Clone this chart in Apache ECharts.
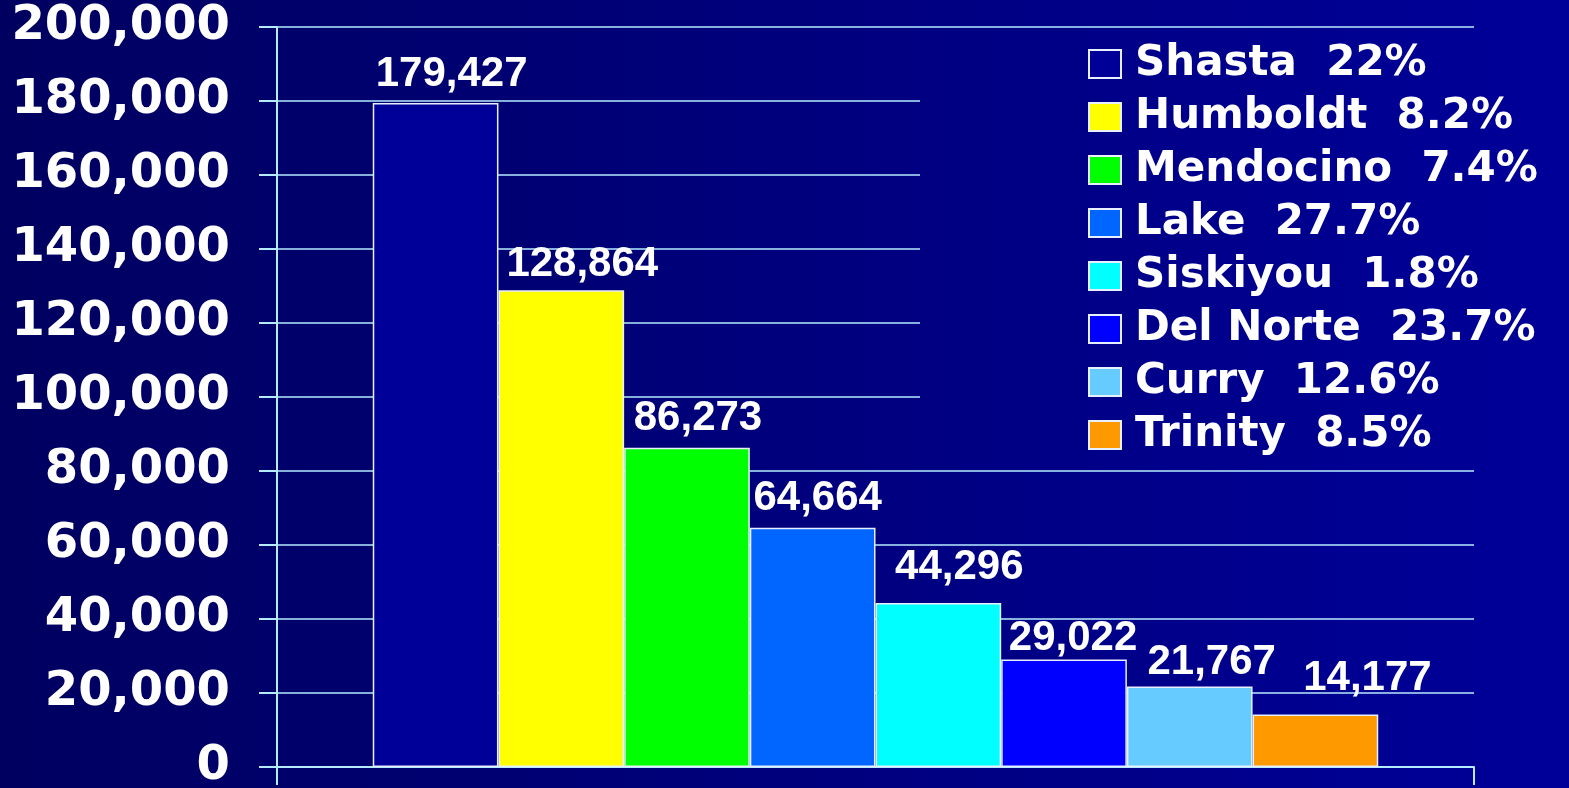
<!DOCTYPE html>
<html>
<head>
<meta charset="utf-8">
<script src="https://cdn.jsdelivr.net/npm/echarts@6/dist/echarts.min.js"></script>
<style>
  html, body { margin: 0; padding: 0; }
  #chart { width: 1569px; height: 788px; }
</style>
</head>
<body>
<div id="chart"></div>
<script>
const counties = ["Shasta", "Humboldt", "Mendocino", "Lake", "Siskiyou", "Del Norte", "Curry", "Trinity"];
const population = [179427, 128864, 86273, 64664, 44296, 29022, 21767, 14177];
const shares = ["22", "8.2", "7.4", "27.7", "1.8", "23.7", "12.6", "8.5"];
const yTicks = [0, 200000, 20000]; // min, max, step

const colors = ["#000099", "#ffff00", "#00ff00", "#0066ff", "#00ffff", "#0000ff", "#66ccff", "#ff9900"];
// hand-placed value labels in the original slide
const labelShift = [[16, -3], [21, 0], [11, -4], [5, -4], [21, -10], [9, 4], [22, 1], [52, -11]];
const lineColor = "#b4ecff";

const chart = echarts.init(document.getElementById("chart"));

const series = counties.map(function (name, i) {
  return {
    name: name + "  " + shares[i] + "%",
    type: "bar",
    barGap: "0%",
    barCategoryGap: "16%",
    itemStyle: {
      color: colors[i],
      borderColor: "#e8f0ff",
      borderWidth: 1.5
    },
    label: {
      show: true,
      position: "top",
      offset: labelShift[i],
      color: "#ffffff",
      fontFamily: "Liberation Sans",
      fontWeight: "bold",
      fontSize: 42,
      lineHeight: 41,
      formatter: function (p) {
        return p.value.toLocaleString("en-US");
      }
    },
    emphasis: { disabled: true },
    data: [population[i]]
  };
});

chart.setOption({
  animation: false,
  backgroundColor: new echarts.graphic.LinearGradient(0, 0, 1, 0, [
    { offset: 0, color: "#000060" },
    { offset: 1, color: "#000099" }
  ]),
  grid: {
    left: 277,
    right: 95,
    top: 27,
    bottom: 21,
    outerBoundsMode: "none"
  },
  legend: {
    orient: "vertical",
    left: 920,
    top: 35,
    padding: [8, 35, 8, 168],
    itemWidth: 32,
    itemHeight: 28,
    itemGap: 11,
    icon: "rect",
    selectedMode: false,
    backgroundColor: new echarts.graphic.LinearGradient(0, 0, 1, 0, [
      { offset: 0, color: "#000081" },
      { offset: 1, color: "#000099" }
    ]),
    textStyle: {
      color: "#ffffff",
      fontFamily: "DejaVu Sans",
      fontWeight: "bold",
      fontSize: 42,
      lineHeight: 30,
      padding: [0, 0, 0, 9]
    }
  },
  xAxis: {
    type: "category",
    data: [""],
    axisLine: { show: true, lineStyle: { color: lineColor, width: 2 } },
    axisTick: { show: true, length: 18, lineStyle: { color: lineColor, width: 2 } },
    axisLabel: { show: false },
    splitLine: { show: false }
  },
  yAxis: {
    type: "value",
    min: yTicks[0],
    max: yTicks[1],
    interval: yTicks[2],
    axisLine: { show: true, lineStyle: { color: lineColor, width: 2 } },
    axisTick: { show: true, length: 18, lineStyle: { color: lineColor, width: 2 } },
    splitLine: { show: true, lineStyle: { color: lineColor, width: 1.5 } },
    axisLabel: {
      margin: 47,
      color: "#ffffff",
      fontFamily: "DejaVu Sans",
      fontWeight: "bold",
      fontSize: 48,
      formatter: function (v) {
        return v.toLocaleString("en-US");
      }
    }
  },
  series: series
});
</script>
</body>
</html>
